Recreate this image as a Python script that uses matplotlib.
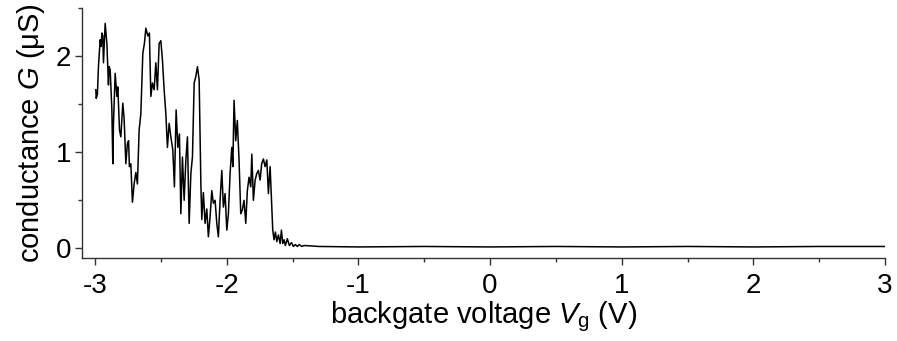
import matplotlib
matplotlib.use("Agg")
import matplotlib.pyplot as plt
from matplotlib.ticker import MultipleLocator

plt.rcParams['font.family'] = ['Liberation Sans', 'DejaVu Sans']
plt.rcParams['mathtext.fontset'] = 'custom'
plt.rcParams['mathtext.rm'] = 'Liberation Sans'
plt.rcParams['mathtext.it'] = 'Liberation Sans:italic'

# Backgate sweep: gate voltage (V) and measured conductance (uS)
vg = [-2.995, -2.992, -2.983, -2.975, -2.962, -2.954, -2.949, -2.942, -2.937, -2.924,
      -2.911, -2.899, -2.894, -2.886, -2.873, -2.866, -2.861, -2.848, -2.835, -2.828,
      -2.815, -2.805, -2.790, -2.780, -2.767, -2.755, -2.746, -2.740, -2.729, -2.717,
      -2.704, -2.691, -2.679, -2.666, -2.653, -2.638, -2.626, -2.615, -2.600, -2.588,
      -2.577, -2.565, -2.552, -2.539, -2.527, -2.514, -2.501, -2.489, -2.476, -2.463,
      -2.451, -2.438, -2.425, -2.410, -2.398, -2.385, -2.372, -2.360, -2.349, -2.337,
      -2.324, -2.311, -2.299, -2.286, -2.273, -2.261, -2.248, -2.235, -2.223, -2.210,
      -2.197, -2.190, -2.178, -2.165, -2.152, -2.140, -2.127, -2.114, -2.102, -2.089,
      -2.076, -2.064, -2.051, -2.038, -2.026, -2.013, -2.000, -1.988, -1.975, -1.962,
      -1.954, -1.945, -1.932, -1.920, -1.907, -1.894, -1.882, -1.869, -1.856, -1.844,
      -1.831, -1.818, -1.810, -1.798, -1.785, -1.772, -1.760, -1.747, -1.735, -1.722,
      -1.709, -1.696, -1.684, -1.671, -1.658, -1.651, -1.641, -1.631, -1.620, -1.608,
      -1.595, -1.585, -1.575, -1.565, -1.555, -1.540, -1.525, -1.509, -1.494, -1.479,
      -1.464, -1.449, -1.431, -1.413, -1.300, -1.000, -0.500, 0.000, 0.500, 1.000,
      1.500, 2.000, 2.500, 3.000]

conductance = [1.65, 1.56, 1.60, 1.89, 2.17, 2.10, 2.24, 2.21, 1.93, 2.34,
               2.13, 1.70, 1.89, 1.86, 1.44, 0.88, 1.30, 1.82, 1.58, 1.68,
               1.23, 1.16, 1.51, 1.35, 0.88, 1.09, 1.12, 0.85, 0.88, 0.48,
               0.67, 0.79, 0.67, 1.23, 1.40, 2.03, 2.13, 2.29, 2.21, 2.24,
               1.58, 1.72, 1.65, 1.93, 1.65, 2.13, 2.16, 1.96, 1.65, 1.40,
               1.05, 1.30, 1.16, 1.02, 0.64, 1.44, 1.05, 1.19, 0.36, 0.95,
               0.50, 0.92, 1.16, 0.26, 0.78, 0.95, 1.72, 1.79, 1.89, 1.75,
               0.67, 0.30, 0.58, 0.26, 0.41, 0.12, 0.33, 0.60, 0.47, 0.50,
               0.26, 0.12, 0.50, 0.81, 0.43, 0.57, 0.19, 0.36, 0.78, 1.05,
               0.85, 1.54, 1.12, 1.33, 0.92, 0.36, 0.40, 0.50, 0.26, 0.60,
               0.74, 0.64, 0.98, 0.50, 0.71, 0.78, 0.81, 0.71, 0.88, 0.93,
               0.85, 0.92, 0.57, 0.85, 0.43, 0.19, 0.09, 0.17, 0.07, 0.14,
               0.05, 0.19, 0.05, 0.09, 0.03, 0.10, 0.03, 0.06, 0.02, 0.04,
               0.02, 0.04, 0.02, 0.03, 0.02, 0.015, 0.02, 0.015, 0.02, 0.015,
               0.02, 0.015, 0.02, 0.02]

x_ticks = [-3, -2, -1, 0, 1, 2, 3]
y_ticks = [0, 1, 2]

fig = plt.figure(figsize=(8.97, 3.41), dpi=100)
ax = fig.add_axes([82 / 897, 1 - 258 / 341, (885 - 82) / 897, (258 - 8) / 341])

ax.plot(vg, conductance, color='black', linewidth=1.1)

ax.set_xlim(-3.1, 3.0)
ax.set_ylim(-0.1, 2.5)
ax.set_xticks(x_ticks)
ax.set_xticklabels([str(t) for t in x_ticks])
ax.set_yticks(y_ticks)
ax.set_yticklabels([str(t) for t in y_ticks])
ax.xaxis.set_minor_locator(MultipleLocator(0.5))
ax.yaxis.set_minor_locator(MultipleLocator(0.5))

for side in ('top', 'right'):
    ax.spines[side].set_visible(False)
for side in ('left', 'bottom'):
    ax.spines[side].set_linewidth(1.0)
    ax.spines[side].set_color('#333333')

ax.tick_params(which='major', direction='out', length=5, width=1.0,
               color='#333333', labelsize=20)
ax.tick_params(which='minor', direction='out', length=3, width=1.0, color='#333333')
ax.tick_params(axis='x', which='major', pad=6)
ax.tick_params(axis='y', which='major', pad=3)

ax.set_xlabel(r'backgate voltage $V_\mathrm{g}$ (V)', fontsize=21, labelpad=0)
ax.set_ylabel(r'conductance $G$ (μS)', fontsize=21, labelpad=6)

fig.savefig('out.png', dpi=100)
